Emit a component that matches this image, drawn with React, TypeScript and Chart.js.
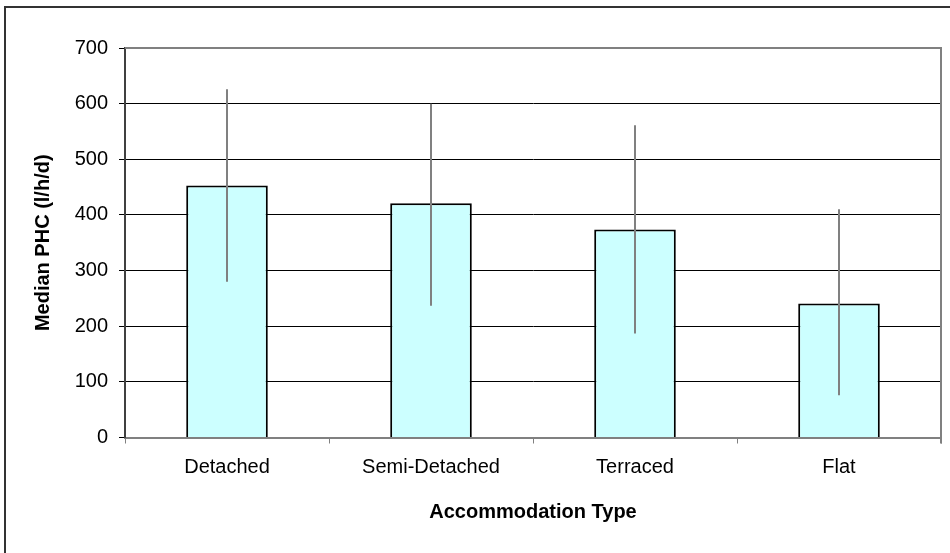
import React, { useEffect, useRef } from "react";
import { Chart, registerables } from "chart.js";

Chart.register(...registerables);

const categories = ["Detached", "Semi-Detached", "Terraced", "Flat"];
const medianPHC = [453, 421, 374, 241];
const errorUpper = [626, 600, 561, 410];
const errorLower = [280, 237, 187, 76];
const yTicks = [0, 100, 200, 300, 400, 500, 600, 700];

const FONT = "'Liberation Sans', Arial, Helvetica, sans-serif";

const errorBarPlugin = {
  id: "errorBars",
  afterDatasetsDraw(chart: any) {
    const meta = chart.getDatasetMeta(0);
    const yScale = chart.scales.y;
    const ctx = chart.ctx;
    ctx.save();
    ctx.strokeStyle = "#808080";
    ctx.lineWidth = 2;
    meta.data.forEach((el: any, i: number) => {
      const yt = yScale.getPixelForValue(errorUpper[i]);
      const yb = yScale.getPixelForValue(errorLower[i]);
      ctx.beginPath();
      ctx.moveTo(Math.round(el.x), yt);
      ctx.lineTo(Math.round(el.x), yb);
      ctx.stroke();
    });
    ctx.restore();
  },
};

const framePlugin = {
  id: "frame",
  beforeDraw(chart: any) {
    const ctx = chart.ctx;
    ctx.save();
    ctx.fillStyle = "#ffffff";
    ctx.fillRect(0, 0, chart.width, chart.height);
    ctx.strokeStyle = "#333333";
    ctx.lineWidth = 2;
    ctx.beginPath();
    ctx.moveTo(5, chart.height + 5);
    ctx.lineTo(5, 7);
    ctx.lineTo(chart.width + 5, 7);
    ctx.stroke();
    ctx.restore();
  },
  afterDraw(chart: any) {
    const { top, right, bottom, left } = chart.chartArea;
    const ctx = chart.ctx;
    ctx.save();
    ctx.strokeStyle = "#808080";
    ctx.lineWidth = 2;
    ctx.beginPath();
    ctx.moveTo(left, top);
    ctx.lineTo(right, top);
    ctx.lineTo(right, bottom + 6);
    ctx.stroke();
    ctx.restore();
  },
};

export default function App() {
  const ref = useRef<HTMLCanvasElement | null>(null);

  useEffect(() => {
    if (!ref.current) return;
    const chart = new Chart(ref.current, {
      type: "bar",
      data: {
        labels: categories,
        datasets: [
          {
            label: "Median PHC",
            data: medianPHC,
            backgroundColor: "#CCFFFF",
            borderColor: "#000000",
            borderWidth: 2,
            barPercentage: 0.4,
            categoryPercentage: 1,
          },
        ],
      },
      options: {
        responsive: false,
        animation: false,
        devicePixelRatio: 1,
        layout: { padding: { left: 0, right: 9, top: 48, bottom: 0 } },
        plugins: {
          legend: { display: false },
          tooltip: { enabled: false },
          title: { display: false },
        },
        scales: {
          x: {
            type: "category",
            offset: true,
            afterFit(scale: any) {
              scale.height = 115.5;
            },
            grid: {
              offset: true,
              drawOnChartArea: false,
              drawTicks: true,
              tickLength: 6,
              color: "#808080",
              lineWidth: 1,
            },
            border: { display: true, color: "#808080", width: 2 },
            ticks: {
              color: "#000000",
              padding: 12,
              font: { family: FONT, size: 20 },
              maxRotation: 0,
              autoSkip: false,
            },
            title: {
              display: true,
              text: "Accommodation Type",
              color: "#000000",
              font: { family: FONT, size: 20, weight: "bold" },
              padding: { top: 4, bottom: 29 },
            },
          },
          y: {
            min: 0,
            max: 700,
            afterFit(scale: any) {
              scale.width = 125;
            },
            afterBuildTicks(scale: any) {
              scale.ticks = yTicks.map((v) => ({ value: v }));
            },
            grid: {
              color: "#000000",
              lineWidth: 1,
              drawTicks: true,
              tickLength: 6,
            },
            border: { display: true, color: "#404040", width: 2 },
            ticks: {
              color: "#000000",
              padding: 11,
              font: { family: FONT, size: 20 },
            },
            title: {
              display: true,
              text: "Median PHC (l/h/d)",
              color: "#000000",
              font: { family: FONT, size: 20, weight: "bold" },
              padding: { top: 31, bottom: 0 },
            },
          },
        },
      },
      plugins: [framePlugin, errorBarPlugin],
    } as any);
    return () => chart.destroy();
  }, []);

  return (
    <div style={{ position: "fixed", left: 0, top: 0, width: 950, height: 553, background: "#fff" }}>
      <canvas ref={ref} width={950} height={553} style={{ display: "block", width: 950, height: 553 }} />
    </div>
  );
}
